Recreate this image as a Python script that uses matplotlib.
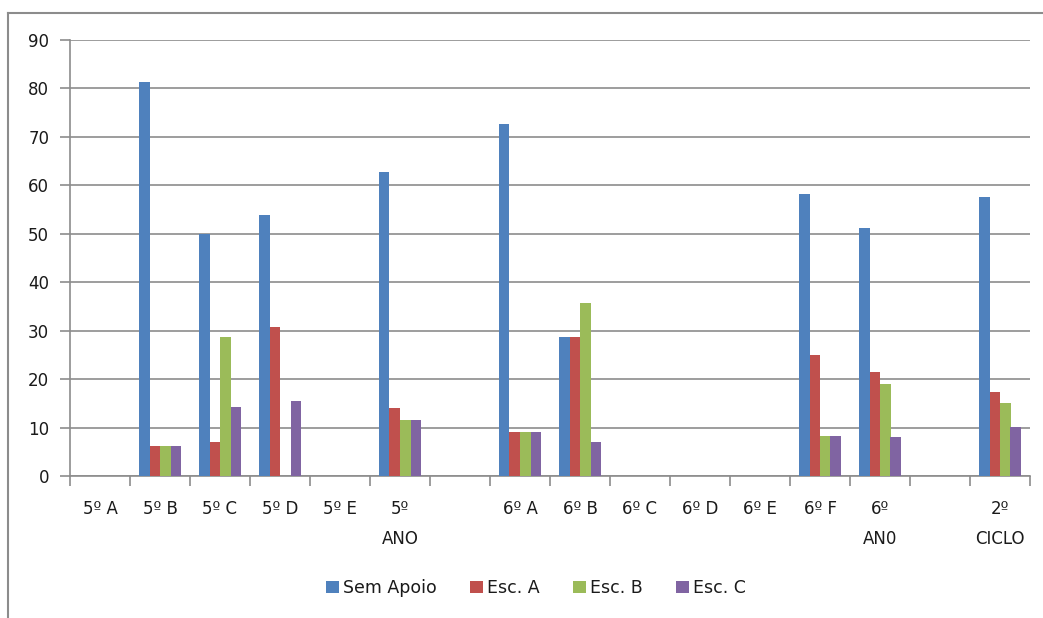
import matplotlib
matplotlib.use("Agg")
import matplotlib.pyplot as plt
import numpy as np

categories = ["5º A", "5º B", "5º C", "5º D", "5º E", "5º\nANO", "",
              "6º A", "6º B", "6º C", "6º D", "6º E", "6º F", "6º\nAN0", "", "2º\nCICLO"]
sem_apoio = [0, 81.3, 50.0, 53.8, 0, 62.8, 0, 72.7, 28.6, 0, 0, 0, 58.3, 51.2, 0, 57.6]
esc_a     = [0, 6.2, 7.1, 30.8, 0, 14.0, 0, 9.1, 28.6, 0, 0, 0, 25.0, 21.5, 0, 17.3]
esc_b     = [0, 6.2, 28.6, 0, 0, 11.6, 0, 9.1, 35.7, 0, 0, 0, 8.3, 18.9, 0, 15.1]
esc_c     = [0, 6.2, 14.3, 15.4, 0, 11.6, 0, 9.1, 7.1, 0, 0, 0, 8.3, 8.0, 0, 10.1]
series_names = ["Sem Apoio", "Esc. A", "Esc. B", "Esc. C"]
colors = ["#4F81BD", "#C0504D", "#9BBB59", "#8064A2"]
yticks = [0, 10, 20, 30, 40, 50, 60, 70, 80, 90]

W, H = 1043, 618
fig = plt.figure(figsize=(W / 100, H / 100), dpi=100)
plt.rcParams['font.family'] = ['DejaVu Sans']
txt_color = "#1a1a1a"
line_color = "#8c8c8c"

# outer chart frame (top and left visible)
fig.add_artist(plt.Line2D([8 / W, 8 / W], [0, 1 - 13 / H], transform=fig.transFigure,
                          color=line_color, lw=1.5))
fig.add_artist(plt.Line2D([8 / W, 1], [1 - 13 / H, 1 - 13 / H], transform=fig.transFigure,
                          color=line_color, lw=1.5))

ax = fig.add_axes([70 / W, 1 - 476 / H, 960 / W, 436 / H])
x = np.arange(len(categories))
bw = 0.175
data = [sem_apoio, esc_a, esc_b, esc_c]
for i, (vals, name, c) in enumerate(zip(data, series_names, colors)):
    ax.bar(x + (i - 1.5) * bw, vals, width=bw, color=c, label=name, zorder=3,
           edgecolor="none")

ax.set_xlim(-0.5, len(categories) - 0.5)
ax.set_ylim(0, 90)
ax.set_yticks(yticks)
ax.set_yticklabels([str(v) for v in yticks], fontsize=12, color=txt_color)
ax.yaxis.grid(True, color=line_color, lw=1.2, zorder=0)
for s in ["top", "right"]:
    ax.spines[s].set_visible(False)
for s in ["left", "bottom"]:
    ax.spines[s].set_color(line_color)
    ax.spines[s].set_linewidth(1.2)
ax.tick_params(axis="y", length=7, color=line_color, width=1.2, pad=8)

# category boundary ticks
ax.set_xticks(np.arange(len(categories) + 1) - 0.5)
ax.set_xticklabels([])
ax.tick_params(axis="x", which="major", length=7, color=line_color, width=1.2)
ax.set_xticks(x, minor=True)
ax.set_xticklabels(categories, minor=True, fontsize=12, color=txt_color,
                   linespacing=1.9, va="top")
ax.tick_params(axis="x", which="minor", length=0, pad=17)

leg = fig.legend(loc="center", bbox_to_anchor=(536 / W, 1 - 588 / H), ncol=4,
                 frameon=False, fontsize=12.5, handlelength=0.75, handleheight=0.75,
                 handletextpad=0.25, columnspacing=1.9, labelcolor=txt_color)

fig.savefig("out.png", dpi=100)
